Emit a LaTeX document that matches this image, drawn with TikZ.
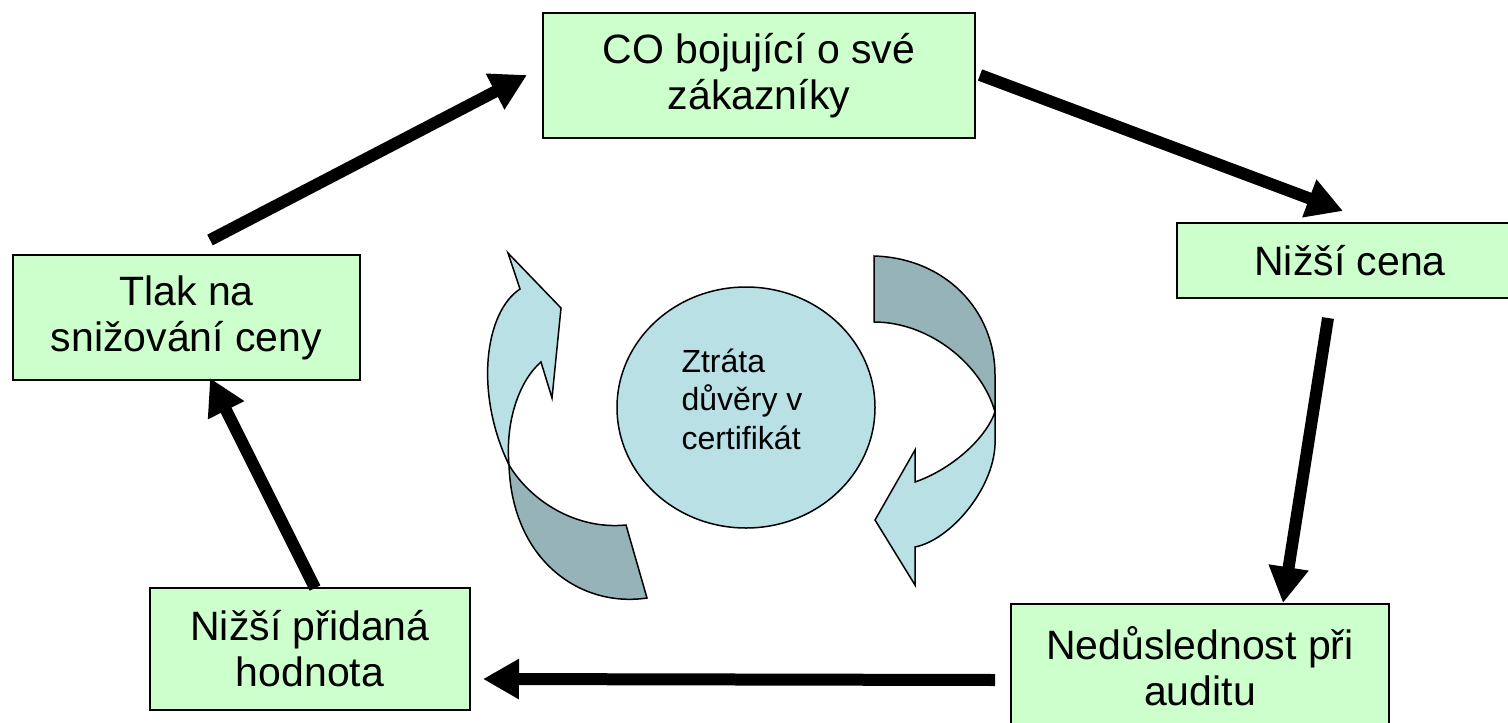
\documentclass[tikz,border=0pt]{standalone}
\usepackage{fontspec}
\setmainfont{Liberation Sans}
\usetikzlibrary{arrows.meta,shapes.geometric}
\definecolor{boxgreen}{HTML}{CCFFCC}
\definecolor{lightteal}{HTML}{B9E0E4}
\definecolor{darkteal}{HTML}{96B4B8}
\begin{document}
\begin{tikzpicture}[x=1pt,y=-1pt,
  cbox/.style={draw=black, line width=1.4pt, fill=boxgreen, rectangle, align=center, inner sep=0pt, font=\fontsize{41}{46}\selectfont},
  bigarrow/.style={line width=12pt, -{Triangle[length=36pt,width=38pt]}},
  band/.style={draw=black, line width=1.5pt, line join=miter}]
\useasboundingbox (0,0) rectangle (1508,723);

% boxes
\node[cbox, minimum width=432pt, minimum height=125pt] (top) at (759,75.5) {CO bojující o své\\zákazníky};
\node[cbox, minimum width=346pt, minimum height=75pt] (cena) at (1350,260.5) {Nižší cena};
\node[cbox, minimum width=347pt, minimum height=125pt] (tlak) at (186.5,317.5) {Tlak na\\snižování ceny};
\node[cbox, minimum width=320pt, minimum height=122pt] (prid) at (310,649) {Nižší přidaná\\hodnota};
\node[cbox, minimum width=378pt, minimum height=125pt] (ned) at (1200,666.5) {Nedůslednost při\\auditu};

% thick arrows
\coordinate (s1) at (210,240); \coordinate (e1) at (527,75);
\coordinate (s2) at (980,75);  \coordinate (e2) at (1343,211);
\coordinate (s3) at (1328,318); \coordinate (e3) at (1283,603);
\coordinate (s4) at (995,680); \coordinate (e4) at (483,679);
\coordinate (s5) at (315,588); \coordinate (e5) at (210,378);
\draw[bigarrow] (s1) -- (e1);
\draw[bigarrow] (s2) -- (e2);
\draw[bigarrow] (s3) -- (e3);
\draw[bigarrow] (s4) -- (e4);
\draw[bigarrow] (s5) -- (e5);

% central circle
\node[ellipse, draw=black, line width=1.5pt, fill=lightteal, minimum width=258pt, minimum height=241pt, inner sep=0pt] (circ) at (746,407.5) {};
\node[align=left, inner sep=0pt, font=\fontsize{32}{38.5}\selectfont] (circtxt) at (742,399) {Ztráta\\důvěry v\\certifikát};

% left curved arrow
\path[band, fill=lightteal] (509,465) .. controls (474,392) and (485,312) .. (520,289) -- (508,253) -- (561,308) -- (552,398) -- (541,362) .. controls (520,380) and (505,420) .. (509,465) -- cycle;
\path[band, fill=darkteal] (509,465) .. controls (530,500) and (575,530) .. (626,525) -- (647,598) .. controls (580,608) and (512,560) .. (509,465) -- cycle;

% right curved arrow
\path[band, fill=darkteal] (874,256) .. controls (945,258) and (995,310) .. (995,375) -- (995,412) .. controls (982,365) and (930,322) .. (874,322) -- cycle;
\path[band, fill=lightteal] (995,412) -- (995,445) .. controls (993,490) and (950,540) .. (915,547) -- (915,585) -- (875,520) -- (915,450) -- (915,482) .. controls (950,470) and (985,440) .. (995,412) -- cycle;
\end{tikzpicture}
\end{document}
